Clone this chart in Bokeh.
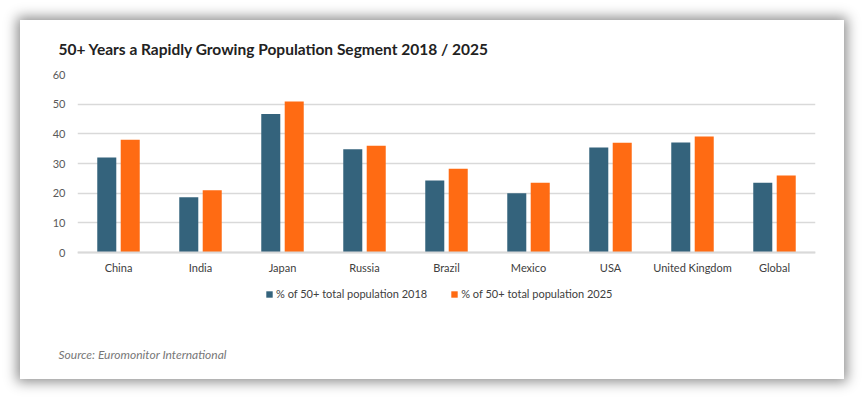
from bokeh.plotting import figure
from bokeh.models import Legend, LegendItem, Title, ColumnDataSource, FixedTicker
from bokeh.transform import dodge
from bokeh.embed import file_html
from bokeh.resources import INLINE

countries = ["China", "India", "Japan", "Russia", "Brazil", "Mexico", "USA", "United Kingdom", "Global"]
pop_2018 = [32.0, 18.6, 46.7, 34.8, 24.3, 20.0, 35.4, 37.1, 23.5]
pop_2025 = [38.0, 21.0, 50.9, 36.0, 28.2, 23.5, 37.0, 39.1, 26.0]
y_ticks = [0, 10, 20, 30, 40, 50, 60]
series_labels = ["% of 50+ total population 2018", "% of 50+ total population 2025"]
title_text = "50+ Years a Rapidly Growing Population Segment 2018 / 2025"
source_text = "Source: Euromonitor International"

TEAL = "#34637C"
ORANGE = "#FF6B13"
FONT = "Lato"

src = ColumnDataSource(dict(country=countries, y2018=pop_2018, y2025=pop_2025))

# frame extends below zero so the legend can sit inside it
p = figure(x_range=countries, y_range=(-26.6, 60), frame_width=738, frame_height=257,
           output_backend="svg", toolbar_location=None,
           min_border_left=57, min_border_right=29, min_border_top=53, min_border_bottom=48,
           outline_line_color=None, background_fill_color="white", border_fill_color="white")
p.margin = (20, 0, 0, 20)
p.styles = {"box-shadow": "0px 0px 12px 3px rgba(0,0,0,0.45)"}

r1 = p.vbar(x=dodge("country", -0.143, range=p.x_range), top="y2018", width=0.232,
            source=src, fill_color=TEAL, line_color=None)
r2 = p.vbar(x=dodge("country", 0.143, range=p.x_range), top="y2025", width=0.232,
            source=src, fill_color=ORANGE, line_color=None)

p.title.text = title_text
p.title.text_font = FONT
p.title.text_font_size = "15.5px"
p.title.text_font_style = "bold"
p.title.text_color = "#222222"
p.title.align = "left"
p.title.offset = -19
p.title.standoff = 34

p.x_range.range_padding = 0
p.xgrid.grid_line_color = None
p.ygrid.grid_line_color = "#D9D9D9"
p.ygrid.grid_line_width = 1.3
p.ygrid.ticker = FixedTicker(ticks=y_ticks)
p.yaxis.ticker = FixedTicker(ticks=y_ticks)
p.yaxis.axis_line_color = None
p.yaxis.major_tick_line_color = None
p.yaxis.minor_tick_line_color = None
p.yaxis.major_label_text_font = FONT
p.yaxis.major_label_text_font_size = "11px"
p.yaxis.major_label_text_color = "#595959"
p.yaxis.major_label_standoff = 6

p.xaxis.fixed_location = 0
p.xaxis.axis_line_color = "#D9D9D9"
p.xaxis.axis_line_width = 2
p.xaxis.major_tick_line_color = None
p.xaxis.minor_tick_line_color = None
p.xaxis.major_label_text_font = FONT
p.xaxis.major_label_text_font_size = "11px"
p.xaxis.major_label_text_color = "#404040"
p.xaxis.major_label_standoff = 2

legend = Legend(items=[LegendItem(label=series_labels[0], renderers=[r1]),
                       LegendItem(label=series_labels[1], renderers=[r2])],
                orientation="horizontal", location=(188, 31),
                label_text_font=FONT, label_text_font_size="11px", label_text_color="#404040",
                glyph_width=8, glyph_height=8, label_standoff=3, spacing=23,
                border_line_color=None, background_fill_alpha=0, padding=4, margin=0)
p.add_layout(legend, "center")

src_title = Title(text=source_text, align="left", offset=-19, standoff=26,
                  text_font=FONT, text_font_size="12px", text_font_style="italic",
                  text_color="#777777")
p.add_layout(src_title, "below")

open("out.html", "w").write(file_html(p, INLINE))
